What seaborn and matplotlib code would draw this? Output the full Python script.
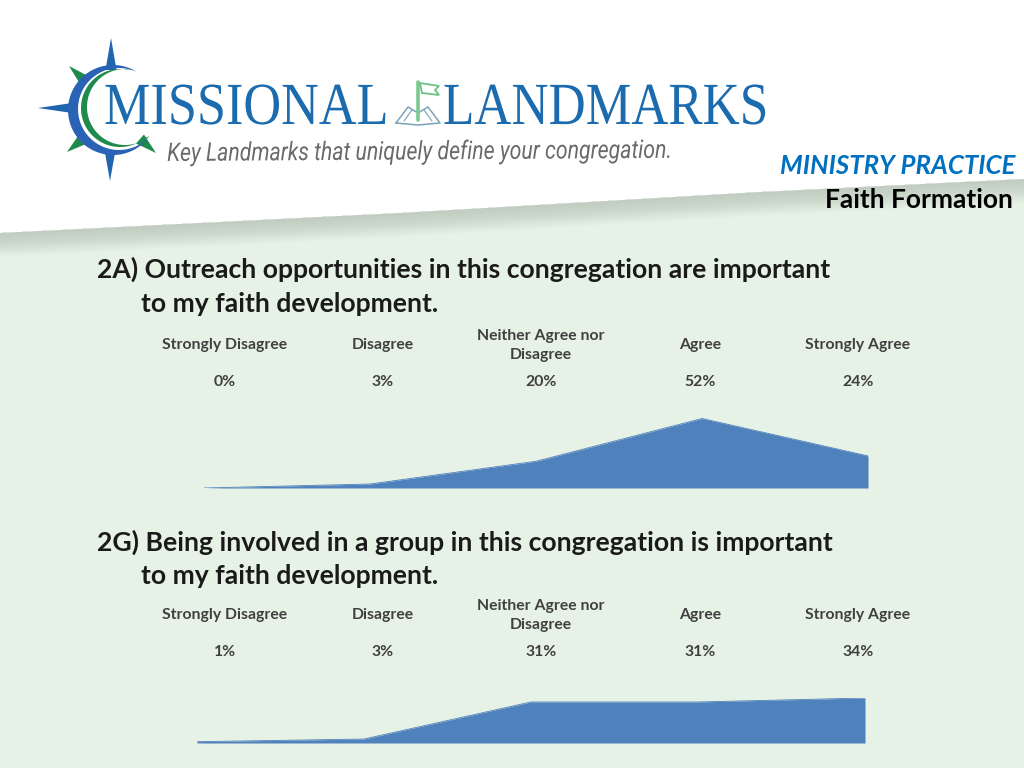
import numpy as np
import matplotlib
matplotlib.use('Agg')
import matplotlib.pyplot as plt
import seaborn as sns
from matplotlib.patheffects import AbstractPathEffect
from matplotlib.transforms import Affine2D

# Survey values
answers = ['Strongly Disagree', 'Disagree', 'Neither Agree nor\nDisagree', 'Agree', 'Strongly Agree']
outreach_pct = [0, 3, 20, 52, 24]
group_pct = [1, 3, 31, 31, 34]
outreach_question = ['2A) Outreach opportunities in this congregation are important', 'to my faith development.']
group_question = ['2G) Being involved in a group in this congregation is important', 'to my faith development.']

BLUE = '#4F81BD'
BG = '#E6F2E6'
LOGO = '#1B6BAE'


class Squeeze(AbstractPathEffect):
    # narrows text horizontally, the logo type is condensed
    def __init__(self, x0, sx):
        super().__init__()
        self.x0, self.sx = x0, sx

    def draw_path(self, renderer, gc, tpath, affine, rgbFace=None):
        t = affine + Affine2D().translate(-self.x0, 0).scale(self.sx, 1).translate(self.x0, 0)
        renderer.draw_path(gc, tpath, t, rgbFace)


sns.set_theme(style='white')
plt.rcParams['font.family'] = ['Lato', 'DejaVu Sans']

fig = plt.figure(figsize=(10.24, 7.68), dpi=100, facecolor='white')

# page background in pixel coordinates
bg = fig.add_axes([0, 0, 1, 1])
bg.set_xlim(0, 1024)
bg.set_ylim(768, 0)
bg.axis('off')

edge_x = np.array([0, 200, 400, 760, 1024])
edge_y = np.array([233, 223, 213, 192, 179])
xs = np.linspace(0, 1024, 200)
ys = np.interp(xs, edge_x, edge_y)
bg.fill_between(xs, ys, 768, color=BG, lw=0)
for i in range(24):
    bg.fill_between(xs, ys, ys + 24 - i, color='#8d9a8d', alpha=0.017, lw=0)


def star(tip, base, half, color):
    tip, base = np.array(tip, float), np.array(base, float)
    d = tip - base
    n = np.array([-d[1], d[0]]) / np.hypot(*d) * half
    bg.fill([tip[0], base[0] + n[0], base[0] - n[0]], [tip[1], base[1] + n[1], base[1] - n[1]], color=color, lw=0)


def crescent(c1, r1, c2, r2, color, t0, t1):
    t = np.radians(np.linspace(t0, t1, 80))
    x = np.r_[c1[0] + r1 * np.cos(t), (c2[0] + r2 * np.cos(t))[::-1]]
    y = np.r_[c1[1] + r1 * np.sin(t), (c2[1] + r2 * np.sin(t))[::-1]]
    bg.fill(x, y, color=color, lw=0)


# compass logo
star((111, 38), (111, 70), 5.5, '#1F66AE')
star((110, 181), (110, 150), 5.5, '#1F66AE')
star((38, 108), (72, 108), 5, '#1F66AE')
star((69, 66), (85, 81), 6, '#1E8A4C')
star((67, 152), (83, 139), 6, '#1E8A4C')
star((156, 153), (140, 139), 6, '#1E8A4C')
crescent((113, 110), 45, (119, 109), 41, '#2A62B5', 37, 295)
crescent((120, 108), 39, (125, 107), 38, '#1E8A4C', 50, 280)

# flag and book icon
bg.plot([418, 418], [82, 120], color='#7CC98F', lw=2.6, zorder=3)
bg.fill([420, 439, 435, 439, 422], [83, 86, 90, 95, 93], facecolor='white', edgecolor='#6CC083', lw=1.3, zorder=3)
bg.plot([396, 408, 418, 428, 440, 418, 396], [123, 107, 113, 107, 123, 125, 123], color='#7BA3B8', lw=1.1, zorder=2)
bg.plot([404, 412], [121, 110], color='#7BA3B8', lw=0.8, zorder=2)
bg.plot([432, 424], [121, 110], color='#7BA3B8', lw=0.8, zorder=2)

for word, x0, sx in [('MISSIONAL', 104, 0.875), ('LANDMARKS', 443, 0.86)]:
    t = bg.text(x0, 124, word, family='Liberation Serif', fontsize=43, color=LOGO, ha='left', va='baseline', zorder=3)
    t.set_path_effects([Squeeze(x0, sx)])
t = bg.text(167, 161, 'Key Landmarks that uniquely define your congregation.', family='Roboto',
            style='italic', fontsize=18.5, color='#6a6a6a', ha='left', va='baseline', rotation=0.3, zorder=3)
t.set_path_effects([Squeeze(167, 0.829)])

# header
bg.text(1015, 166, 'MINISTRY PRACTICE', fontsize=18.6, weight='bold', style='italic', color='#0070C0', ha='right', va='center')
bg.text(1013, 200.5, 'Faith Formation', fontsize=18.9, weight='bold', color='black', ha='right', va='center')


def panel(question, q_y, pct, label_y, value_y, left, right, base, top):
    bg.text(97, q_y, question[0], fontsize=19.05, weight='bold', color='#1a1a1a', va='center')
    bg.text(141, q_y + 34.5, question[1], fontsize=19.05, weight='bold', color='#1a1a1a', va='center')
    for x, a, p in zip([225, 383, 541, 700, 858], answers, pct):
        bg.text(x, label_y, a, fontsize=11.35, weight='bold', color='#404040', ha='center', va='center', linespacing=1.45)
        bg.text(x, value_y, f'{p}%', fontsize=11.35, weight='bold', color='#404040', ha='center', va='center')

    ax = fig.add_axes([left / 1024, 1 - base / 768, (right - left) / 1024, (base - top) / 768])
    cats = list(range(len(pct)))
    sns.lineplot(x=cats, y=pct, color=BLUE, lw=0.6, ax=ax)
    ax.fill_between(cats, pct, 0, color=BLUE, lw=0)
    ax.set_xlim(0, 4)
    ax.set_ylim(0, max(pct))
    ax.axis('off')


panel(outreach_question, 269, outreach_pct, 345.5, 381.5, 204, 868, 488, 418.5)
panel(group_question, 542, group_pct, 615.5, 652.5, 197, 865, 743, 698)

fig.savefig('out.png', dpi=100)
